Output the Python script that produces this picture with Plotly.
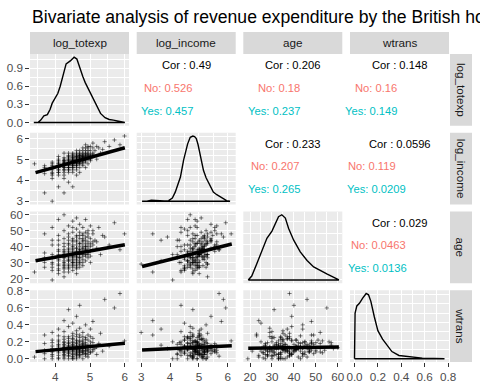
import plotly.graph_objects as go

chart_title = "Bivariate analysis of revenue expenditure by the British households"
var_names = ["log_totexp", "log_income", "age", "wtrans"]

# ---- observations (read/estimated from the scatter panels) ----
log_totexp = [
    3.40, 3.69, 3.69, 3.69,
    3.91, 3.91, 3.91, 3.91, 3.91, 3.91,
    4.09, 4.09, 4.09, 4.09, 4.09, 4.09, 4.09, 4.09, 4.09,
    4.25, 4.25, 4.25, 4.25, 4.25, 4.25, 4.25, 4.25, 4.25, 4.25, 4.25, 4.25,
    4.38, 4.38, 4.38, 4.38, 4.38, 4.38, 4.38, 4.38, 4.38, 4.38, 4.38, 4.38, 4.38,
    4.50, 4.50, 4.50, 4.50, 4.50, 4.50, 4.50, 4.50, 4.50, 4.50, 4.50, 4.50, 4.50, 4.50,
    4.61, 4.61, 4.61, 4.61, 4.61, 4.61, 4.61, 4.61, 4.61, 4.61, 4.61, 4.61, 4.61, 4.61,
    4.70, 4.70, 4.70, 4.70, 4.70, 4.70, 4.70, 4.70, 4.70, 4.70, 4.70,
    4.79, 4.79, 4.79, 4.79, 4.79, 4.79, 4.79, 4.79, 4.79,
    4.87, 4.87, 4.87, 4.87, 4.87, 4.87, 4.87,
    4.94, 4.94, 4.94, 4.94, 4.94,
    5.01, 5.01, 5.01, 5.01,
    5.08, 5.08, 5.08,
    5.14, 5.19, 5.25, 5.30,
    5.42, 5.55, 5.70, 5.86, 5.99,
    3.69, 3.69,
    3.91, 3.91, 3.91, 3.91,
    4.09, 4.09, 4.09, 4.09, 4.09, 4.09,
    4.25, 4.25, 4.25, 4.25, 4.25, 4.25, 4.25, 4.25,
    4.38, 4.38, 4.38, 4.38, 4.38, 4.38, 4.38, 4.38, 4.38,
    4.50, 4.50, 4.50, 4.50, 4.50, 4.50, 4.50, 4.50, 4.50, 4.50,
    4.61, 4.61, 4.61, 4.61, 4.61, 4.61, 4.61, 4.61, 4.61, 4.61,
    4.70, 4.70, 4.70, 4.70, 4.70, 4.70, 4.70, 4.70,
    4.79, 4.79, 4.79, 4.79, 4.79, 4.79, 4.79,
    4.87, 4.87, 4.87, 4.87, 4.87,
    4.94, 4.94, 4.94, 4.94,
    5.01, 5.01, 5.01,
    5.08, 5.08,
    5.19, 5.36,
]
log_income = [
    4.79, 4.32, 4.61, 3.40,
    4.50, 4.25, 4.70, 3.00, 4.38, 4.09,
    4.61, 4.38, 4.79, 3.69, 4.50, 4.87, 4.25, 5.01, 4.61,
    4.70, 4.50, 4.94, 4.38, 4.79, 3.40, 4.61, 5.08, 4.87, 4.25, 4.70, 5.30,
    4.79, 4.61, 5.01, 4.50, 4.94, 4.70, 3.91, 5.19, 4.87, 4.38, 4.79, 5.08, 4.61,
    4.87, 4.70, 5.08, 4.61, 5.01, 4.79, 4.38, 5.30, 4.94, 4.50, 4.87, 5.14, 3.69, 4.79,
    4.94, 4.79, 5.14, 4.70, 5.01, 4.87, 5.25, 4.50, 4.94, 5.42, 4.61, 5.08, 4.79, 4.25,
    5.01, 4.87, 5.19, 4.79, 5.08, 4.94, 5.42, 4.61, 5.25, 4.38, 5.01,
    5.08, 4.94, 5.30, 4.79, 5.14, 5.55, 4.70, 5.01, 5.19,
    5.14, 5.01, 5.42, 4.87, 5.25, 5.70, 4.61,
    5.19, 5.01, 5.55, 4.79, 5.30,
    5.25, 5.08, 5.62, 4.94,
    5.30, 5.14, 5.78,
    5.42, 5.01, 5.55, 5.30,
    5.85, 5.62, 5.93, 5.70, 6.12,
    4.50, 4.70,
    4.61, 4.79, 4.32, 4.87,
    4.70, 4.94, 4.50, 4.79, 4.38, 5.14,
    4.87, 4.61, 5.01, 4.79, 4.50, 4.94, 4.70, 4.09,
    4.94, 4.70, 5.14, 4.87, 4.61, 5.01, 4.79, 5.30, 4.50,
    5.01, 4.79, 5.19, 4.94, 4.70, 5.08, 4.87, 4.61, 5.25, 4.94,
    5.08, 4.87, 5.01, 5.19, 4.79, 5.30, 4.94, 5.14, 4.70, 5.01,
    5.14, 4.94, 5.30, 5.01, 4.87, 5.19, 5.08, 4.79,
    5.25, 5.08, 4.94, 5.42, 5.14, 4.87, 5.01,
    5.30, 5.08, 5.19, 4.94, 5.55,
    5.42, 5.14, 5.25, 5.62,
    5.42, 5.19, 5.01,
    5.55, 5.25,
    5.62, 5.48,
]
age = [
    24, 30, 36, 48,
    27, 33, 41, 29, 52, 19,
    31, 25, 38, 44, 28, 57, 35, 23, 47,
    33, 26, 42, 30, 37, 24, 50, 34, 28, 40, 60, 21,
    35, 29, 44, 32, 27, 39, 46, 36, 53, 24, 31, 41, 34,
    36, 30, 45, 27, 38, 33, 49, 29, 56, 25, 40, 34, 31, 43,
    37, 32, 46, 28, 35, 41, 30, 51, 26, 39, 34, 58, 23, 44,
    38, 33, 47, 29, 42, 36, 54, 31, 27, 40, 35,
    39, 34, 48, 30, 43, 37, 52, 28, 45,
    40, 35, 49, 31, 44, 38, 57,
    41, 36, 50, 33, 46,
    42, 37, 53, 30,
    43, 38, 48,
    44, 39, 52, 35,
    46, 41, 55, 38, 48,
    33, 27,
    35, 30, 44, 25,
    34, 29, 41, 26, 37, 32,
    36, 31, 27, 45, 38, 33, 29, 35,
    38, 33, 28, 42, 37, 31, 48, 35, 26,
    35, 39, 32, 28, 44, 37, 30, 41, 34, 52,
    36, 31, 43, 34, 39, 29, 47, 33, 37, 27,
    37, 42, 33, 30, 45, 38, 49, 35,
    41, 36, 32, 44, 39, 47, 35,
    42, 38, 46, 34, 40,
    43, 39, 35, 48,
    45, 40, 34,
    41, 50,
    43, 47,
]
wtrans = [
    0.02, 0.10, 0.00, 0.28,
    0.15, 0.05, 0.22, 0.31, 0.08, 0.00,
    0.12, 0.20, 0.04, 0.35, 0.09, 0.16, 0.00, 0.27, 0.11,
    0.14, 0.07, 0.19, 0.32, 0.02, 0.45, 0.10, 0.23, 0.05, 0.17, 0.13, 0.09,
    0.11, 0.26, 0.06, 0.15, 0.00, 0.38, 0.12, 0.08, 0.21, 0.04, 0.58, 0.14, 0.18,
    0.10, 0.24, 0.05, 0.13, 0.30, 0.00, 0.17, 0.08, 0.20, 0.42, 0.12, 0.02, 0.16, 0.27,
    0.09, 0.19, 0.14, 0.04, 0.33, 0.11, 0.00, 0.22, 0.07, 0.50, 0.15, 0.12, 0.29, 0.06,
    0.13, 0.21, 0.08, 0.36, 0.02, 0.17, 0.10, 0.25, 0.05, 0.63, 0.14,
    0.12, 0.07, 0.18, 0.26, 0.00, 0.15, 0.31, 0.09, 0.20,
    0.10, 0.23, 0.06, 0.14, 0.40, 0.03, 0.19,
    0.11, 0.28, 0.08, 0.16, 0.02,
    0.13, 0.35, 0.07, 0.20,
    0.09, 0.24, 0.44,
    0.12, 0.05, 0.18, 0.30,
    0.70, 0.15, 0.60, 0.77, 0.21,
    0.06, 0.18,
    0.12, 0.03, 0.19, 0.09,
    0.07, 0.14, 0.22, 0.01, 0.10, 0.17,
    0.11, 0.04, 0.16, 0.08, 0.26, 0.00, 0.13, 0.20,
    0.09, 0.16, 0.03, 0.12, 0.24, 0.07, 0.19, 0.10, 0.14,
    0.15, 0.06, 0.11, 0.19, 0.03, 0.23, 0.09, 0.14, 0.00, 0.12,
    0.13, 0.08, 0.18, 0.05, 0.21, 0.11, 0.16, 0.02, 0.26, 0.10,
    0.09, 0.15, 0.12, 0.04, 0.20, 0.07, 0.28, 0.11,
    0.10, 0.17, 0.05, 0.13, 0.22, 0.08, 0.15,
    0.12, 0.06, 0.17, 0.25, 0.09,
    0.14, 0.05, 0.22, 0.10,
    0.16, 0.08, 0.26,
    0.11, 0.19,
    0.14, 0.09,
]

# ---- density curves on the diagonal ----
dens_totexp_x = [3.38, 3.50, 3.58, 3.67, 3.77, 3.85, 3.91, 4.00, 4.07, 4.14, 4.22, 4.31, 4.43, 4.54,
                 4.62, 4.71, 4.79, 4.86, 5.00, 5.10, 5.19, 5.30, 5.43, 5.55, 5.67, 5.85, 6.00]
dens_totexp_y = [0.00, 0.00, 0.04, 0.11, 0.13, 0.22, 0.32, 0.40, 0.48, 0.60, 0.80, 0.97, 1.02, 1.08,
                 1.05, 0.88, 0.76, 0.66, 0.49, 0.37, 0.27, 0.15, 0.08, 0.05, 0.04, 0.02, 0.00]
dens_income_x = [3.03, 3.20, 3.35, 3.50, 3.65, 3.80, 3.95, 4.08, 4.18, 4.28, 4.36, 4.47, 4.55, 4.61,
                 4.70, 4.79, 4.85, 4.91, 4.97, 5.02, 5.09, 5.16, 5.25, 5.33, 5.42, 5.50, 5.62, 5.73,
                 5.85, 5.96, 6.08]
dens_income_y = [0.00, 0.00, 0.015, 0.01, 0.015, 0.005, 0.01, 0.05, 0.14, 0.26, 0.37, 0.63, 0.78, 0.88,
                 0.98, 1.00, 0.99, 0.96, 0.87, 0.75, 0.60, 0.47, 0.36, 0.29, 0.21, 0.14, 0.10, 0.07,
                 0.04, 0.01, 0.00]
dens_age_x = [19.2, 20.8, 23.1, 25.4, 27.7, 30.0, 31.5, 33.0, 34.5, 36.1, 37.6, 39.9, 42.9, 46.0,
              49.0, 52.1, 55.2, 58.2, 60.5]
dens_age_y = [0.00, 0.06, 0.25, 0.45, 0.64, 0.75, 0.87, 0.97, 1.00, 0.95, 0.79, 0.61, 0.43, 0.30,
              0.20, 0.14, 0.09, 0.04, 0.00]
dens_wtrans_x = [0.0, 0.0, 0.005, 0.02, 0.042, 0.07, 0.10, 0.12, 0.14, 0.17, 0.20, 0.24, 0.28, 0.32,
                 0.38, 0.47, 0.58, 0.68, 0.77]
dens_wtrans_y = [0.0, 0.43, 0.70, 0.81, 0.85, 0.93, 1.00, 0.98, 0.88, 0.64, 0.43, 0.30, 0.20, 0.11,
                 0.05, 0.03, 0.01, 0.005, 0.0]

# ---- linear fits in the lower panels (row variable on column variable) ----
fit_rows = [1, 2, 3, 2, 3, 3]
fit_cols = [0, 0, 0, 1, 1, 2]
fit_x0 = [3.43, 3.43, 3.43, 3.03, 3.03, 19.2]
fit_x1 = [6.00, 6.00, 6.00, 6.14, 6.14, 60.5]
fit_y0 = [4.37, 31.1, 0.084, 27.5, 0.104, 0.124]
fit_y1 = [5.56, 41.2, 0.184, 41.6, 0.152, 0.140]

# ---- correlation labels in the upper panels ----
cor_rows = [0, 0, 0, 1, 1, 2]
cor_cols = [1, 2, 3, 2, 3, 3]
cor_all = ["0.49", "0.206", "0.148", "0.233", "0.0596", "0.029"]
cor_no = ["0.526", "0.18", "0.16", "0.207", "0.119", "0.0463"]
cor_yes = ["0.457", "0.237", "0.149", "0.265", "0.0209", "0.0136"]

# ================= figure =================
W, H = 480, 384
FONT = "Liberation Sans, Arial, Helvetica, sans-serif"
col_px = [(30, 129), (136.7, 235.7), (243.3, 342.3), (350, 449)]
row_px = [(54, 125.75), (132.75, 204.5), (211.5, 283.25), (290.25, 362)]
no_right = [195, 301.7, 399.3, 301.7, 398, 408.3]
yes_right = [195, 301.7, 399.3, 301.7, 408, 409]

var_data = [log_totexp, log_income, age, wtrans]
dens_x = [dens_totexp_x, dens_income_x, dens_age_x, dens_wtrans_x]
dens_y = [dens_totexp_y, dens_income_y, dens_age_y, dens_wtrans_y]
major = [1, 1, 10, 0.2]
minor = [0.5, 0.5, 5, 0.1]
fmt = ["d", "d", "d", ".1f"]
diag_major = [0.3, 0.2, 0.36, 0.28]


def rng(v):
    lo, hi = min(v), max(v)
    p = 0.05 * (hi - lo)
    return [lo - p, hi + p]


def ids(r, c):
    k = r * 4 + c + 1
    s = "" if k == 1 else str(k)
    return "x" + s, "y" + s, "xaxis" + s, "yaxis" + s


def px_x(p):
    return p / W


def px_y(p):
    return 1 - p / H


fig = go.Figure()
layout = {}
shapes = []
annotations = []
tickfont = dict(size=11.7, color="#4D4D4D", family=FONT)

for r in range(4):
    for c in range(4):
        xid, yid, xa, ya = ids(r, c)
        upper = c > r
        grid = "#DEDEDE" if upper else "white"
        if r == c:
            ymax = max(dens_y[r])
            yr = [-0.05 * ymax, 1.05 * ymax]
            ydt, ymin_dt, yfmt = diag_major[r], diag_major[r] / 2, ".1f"
        else:
            yr = rng(var_data[r])
            ydt, ymin_dt, yfmt = major[r], minor[r], fmt[r]
        layout[xa] = dict(
            domain=[px_x(col_px[c][0]), px_x(col_px[c][1])], anchor=yid, range=rng(var_data[c]),
            tick0=0, dtick=major[c], tickformat=fmt[c],
            showgrid=True, gridcolor=grid, gridwidth=1.1,
            minor=dict(tick0=0, dtick=minor[c], showgrid=not upper, gridcolor="white", gridwidth=0.55),
            zeroline=False, showline=False, showticklabels=(r == 3),
            ticks="outside" if r == 3 else "", ticklen=3.7, tickwidth=1.07, tickcolor="#333333",
            tickfont=tickfont, automargin=False, fixedrange=True)
        layout[ya] = dict(
            domain=[px_y(row_px[r][1]), px_y(row_px[r][0])], anchor=xid, range=yr,
            tick0=0, dtick=ydt, tickformat=yfmt,
            showgrid=True, gridcolor=grid, gridwidth=1.1,
            minor=dict(tick0=0, dtick=ymin_dt, showgrid=not upper, gridcolor="white", gridwidth=0.55),
            zeroline=False, showline=False, showticklabels=(c == 0),
            ticks="outside" if c == 0 else "", ticklen=3.7, tickwidth=1.07, tickcolor="#333333",
            tickfont=tickfont, automargin=False, fixedrange=True)
        if not upper:
            shapes.append(dict(type="rect", xref=xid + " domain", yref=yid + " domain",
                               x0=0, x1=1, y0=0, y1=1, fillcolor="#EBEBEB",
                               line=dict(width=0), layer="below"))
        if r == c:
            fig.add_trace(go.Scatter(
                x=dens_x[r] + [dens_x[r][0]], y=dens_y[r] + [dens_y[r][0]], mode="lines",
                line=dict(color="black", width=1.4), xaxis=xid, yaxis=yid,
                hoverinfo="skip", showlegend=False))
        elif r > c:
            fig.add_trace(go.Scatter(
                x=var_data[c], y=var_data[r], mode="markers",
                marker=dict(symbol="cross-thin", size=3,
                            line=dict(width=1, color="rgba(0,0,0,0.5)")),
                xaxis=xid, yaxis=yid, hoverinfo="skip", showlegend=False))

for i in range(len(fit_rows)):
    xid, yid, _, _ = ids(fit_rows[i], fit_cols[i])
    fig.add_trace(go.Scatter(
        x=[fit_x0[i], fit_x1[i]], y=[fit_y0[i], fit_y1[i]], mode="lines",
        line=dict(color="black", width=3.5), xaxis=xid, yaxis=yid,
        hoverinfo="skip", showlegend=False))

# strips
for c in range(4):
    shapes.append(dict(type="rect", xref="paper", yref="paper",
                       x0=px_x(col_px[c][0]), x1=px_x(col_px[c][1]), y0=px_y(54), y1=px_y(32),
                       fillcolor="#D9D9D9", line=dict(width=0), layer="below"))
    annotations.append(dict(text=var_names[c], xref="paper", yref="paper",
                            x=px_x((col_px[c][0] + col_px[c][1]) / 2), y=px_y(43),
                            xanchor="center", yanchor="middle", showarrow=False,
                            font=dict(size=11.7, color="#1A1A1A", family=FONT)))
for r in range(4):
    shapes.append(dict(type="rect", xref="paper", yref="paper",
                       x0=px_x(450), x1=px_x(472), y0=px_y(row_px[r][1]), y1=px_y(row_px[r][0]),
                       fillcolor="#D9D9D9", line=dict(width=0), layer="below"))
    annotations.append(dict(text=var_names[r], xref="paper", yref="paper",
                            x=px_x(461), y=px_y((row_px[r][0] + row_px[r][1]) / 2),
                            xanchor="center", yanchor="middle", textangle=90, showarrow=False,
                            font=dict(size=11.7, color="#1A1A1A", family=FONT)))

# correlation texts
for i in range(len(cor_rows)):
    r, c = cor_rows[i], cor_cols[i]
    top = row_px[r][0]
    annotations.append(dict(text="Cor : " + cor_all[i], xref="paper", yref="paper",
                            x=px_x((col_px[c][0] + col_px[c][1]) / 2), y=px_y(top + 11),
                            xanchor="center", yanchor="middle", showarrow=False,
                            font=dict(size=11.2, color="black", family=FONT)))
    annotations.append(dict(text="No: " + cor_no[i], xref="paper", yref="paper",
                            x=px_x(no_right[i]), y=px_y(top + 33.5),
                            xanchor="right", yanchor="middle", showarrow=False,
                            font=dict(size=11.2, color="#F8766D", family=FONT)))
    annotations.append(dict(text="Yes: " + cor_yes[i], xref="paper", yref="paper",
                            x=px_x(yes_right[i]), y=px_y(top + 56.5),
                            xanchor="right", yanchor="middle", showarrow=False,
                            font=dict(size=11.2, color="#00BFC4", family=FONT)))

annotations.append(dict(text=chart_title, xref="paper", yref="paper",
                        x=px_x(30), y=px_y(17), xanchor="left", yanchor="middle",
                        showarrow=False, font=dict(size=17.6, color="black", family=FONT)))

fig.update_layout(
    width=W, height=H, margin=dict(l=0, r=0, t=0, b=0),
    paper_bgcolor="white", plot_bgcolor="rgba(0,0,0,0)",
    font=dict(family=FONT), showlegend=False,
    shapes=shapes, annotations=annotations, **layout)

fig.write_html("out.html", config={"displayModeBar": False},
               post_script="document.body.style.margin='0px';")
